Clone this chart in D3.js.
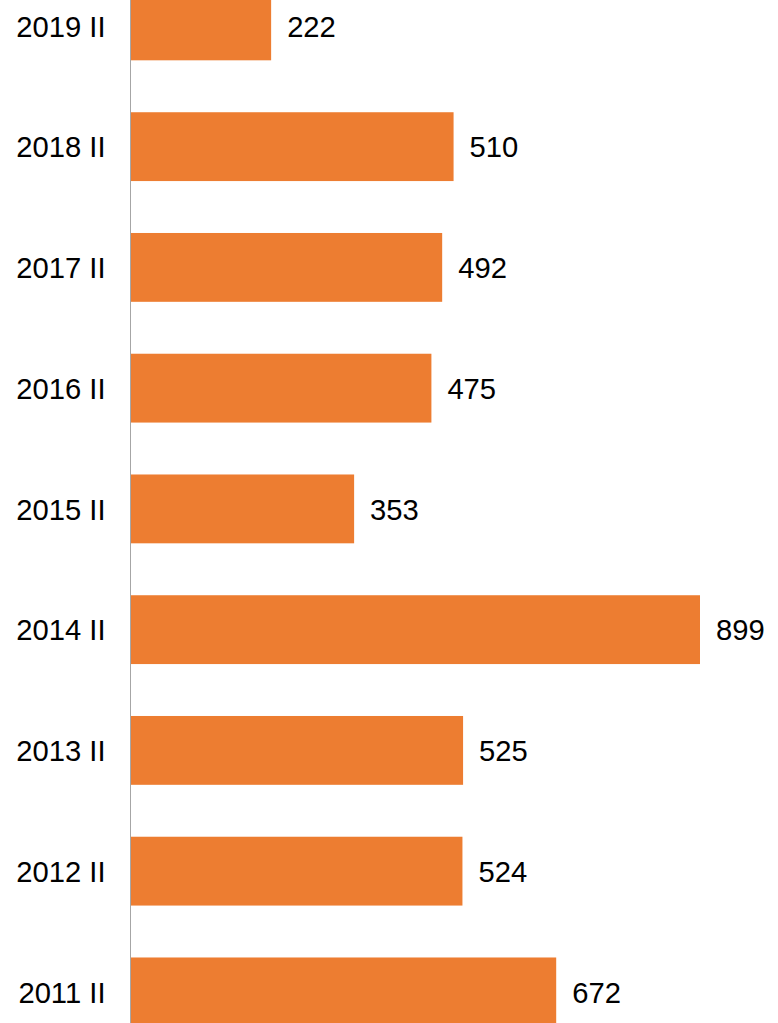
<!DOCTYPE html>
<html>
<head>
<meta charset="utf-8">
<script src="https://cdn.jsdelivr.net/npm/d3@7"></script>
<style>
    html, body { margin: 0; padding: 0; background: #fff; overflow: hidden; }
    #chart svg { display: block; }
    .label { font-family: "Liberation Sans", Arial, sans-serif; font-size: 29.2px; fill: #000; }
</style>
</head>
<body>
<div id="chart"></div>
<script>
// Données du graphique
const categories = ['2019 II', '2018 II', '2017 II', '2016 II', '2015 II', '2014 II', '2013 II', '2012 II', '2011 II'];
const values = [222, 510, 492, 475, 353, 899, 525, 524, 672];

const width = 778;
const height = 1023;

const svg = d3.select("#chart")
    .append("svg")
    .attr("width", width)
    .attr("height", height);

// Échelles
const step = 120.75;
const yStart = 25.9 - step / 2;
const yScale = d3.scaleBand()
    .domain(categories)
    .range([yStart, yStart + step * categories.length])
    .paddingInner(0.43)
    .paddingOuter(0.215);

const xScale = d3.scaleLinear()
    .domain([0, 899])
    .range([130.5, 700]);

// Barres
svg.selectAll("rect.bar")
    .data(values)
    .join("rect")
    .attr("class", "bar")
    .attr("x", xScale(0))
    .attr("y", (d, i) => yScale(categories[i]))
    .attr("width", d => xScale(d) - xScale(0))
    .attr("height", yScale.bandwidth())
    .attr("fill", "#ED7D31");

// Axe vertical
const yAxis = d3.axisLeft(yScale).tickSize(0).tickPadding(25);
const axisG = svg.append("g")
    .attr("transform", `translate(${xScale(0)},0)`)
    .call(yAxis);
axisG.select(".domain")
    .attr("d", `M0,0V${height}`)
    .attr("stroke", "#a6a6a6")
    .attr("stroke-width", 1);
axisG.selectAll("text")
    .attr("class", "label")
    .attr("font-family", null)
    .attr("font-size", null)
    .attr("fill", null)
    .attr("dy", "0.37em");

// Étiquettes de valeurs
svg.selectAll("text.value")
    .data(values)
    .join("text")
    .attr("class", "label value")
    .attr("x", d => xScale(d) + 16)
    .attr("y", (d, i) => yScale(categories[i]) + yScale.bandwidth() / 2)
    .attr("dy", "0.37em")
    .text(d => d);
</script>
</body>
</html>
